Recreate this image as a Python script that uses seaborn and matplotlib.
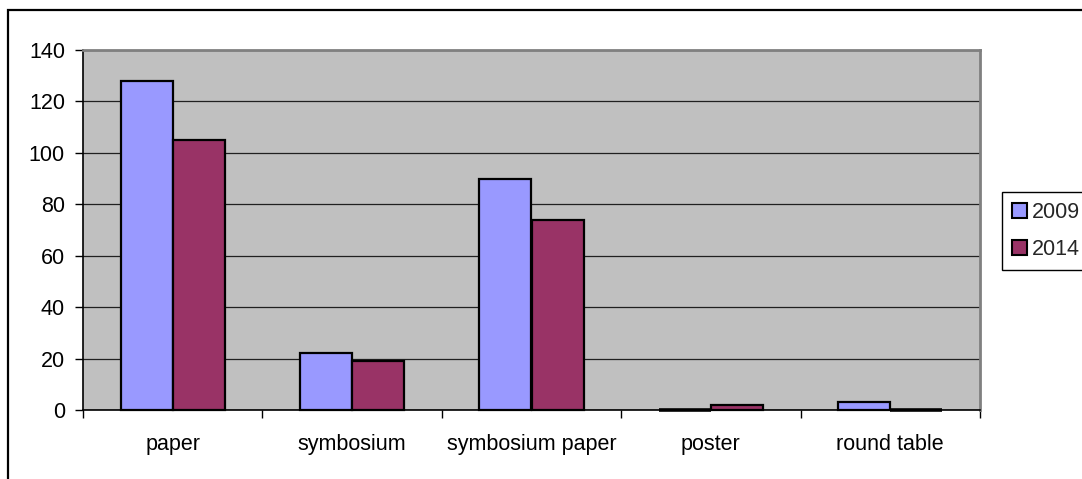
import matplotlib
matplotlib.use("Agg")
import matplotlib.pyplot as plt
from matplotlib.patches import Rectangle
from matplotlib.ticker import FixedLocator
import seaborn as sns
import pandas as pd

categories = ["paper", "symbosium", "symbosium paper", "poster", "round table"]
years = ["2009", "2014"]
values_2009 = [128, 22, 90, 0, 3]
values_2014 = [105, 19, 74, 2, 0]
y_ticks = [0, 20, 40, 60, 80, 100, 120, 140]

df = pd.DataFrame({
    "category": categories * 2,
    "year": [years[0]] * len(categories) + [years[1]] * len(categories),
    "count": values_2009 + values_2014,
})

sns.set_theme(style="white")
plt.rcParams["font.family"] = ["Liberation Sans", "DejaVu Sans"]

FS = 15.5
W, H = 1082, 479
fig = plt.figure(figsize=(W / 100, H / 100), dpi=100)
ax = fig.add_axes([83 / W, 1 - 410 / H, (980 - 83) / W, (410 - 50) / H])
ax.set_facecolor("#C0C0C0")

palette = {"2009": "#9999FF", "2014": "#993366"}
sns.barplot(data=df, x="category", y="count", hue="year", order=categories,
            hue_order=years, palette=palette, width=0.58, saturation=1,
            edgecolor="black", linewidth=1.6, ax=ax, zorder=3)
for p in ax.patches:
    p.set_clip_on(False)
    if p.get_height() == 0:
        # empty groups still show as a flat outlined bar on the axis
        p.set_linewidth(2.6)

ax.set_xlim(-0.5, len(categories) - 0.5)
ax.set_ylim(0, 140)
ax.set_yticks(y_ticks)
ax.set_yticklabels([str(v) for v in y_ticks])
ax.yaxis.grid(True, color="#202020", linewidth=0.9, zorder=0)
ax.set_axisbelow(True)
ax.set_xlabel("")
ax.set_ylabel("")

# category boundary ticks on the x axis, labels centred under each group
ax.xaxis.set_minor_locator(FixedLocator([i - 0.5 for i in range(len(categories) + 1)]))
ax.tick_params(axis="x", which="major", length=0, pad=17, labelsize=FS, colors="black")
ax.tick_params(axis="x", which="minor", length=6, width=1, direction="out",
               color="black", bottom=True)
ax.tick_params(axis="y", which="major", length=6, width=1, direction="out",
               pad=7, labelsize=FS, left=True, color="black", labelcolor="black")

for side in ("top", "right"):
    ax.spines[side].set_color("#808080")
    ax.spines[side].set_linewidth(2)
for side in ("left", "bottom"):
    ax.spines[side].set_color("black")
    ax.spines[side].set_linewidth(1.2)

leg = ax.get_legend()
if leg is not None:
    leg.remove()
handles = [Rectangle((0, 0), 1, 1, facecolor=palette[y], edgecolor="black", linewidth=1.5)
           for y in years]
fig.legend(handles, years, loc="upper left",
           bbox_to_anchor=(1002 / W, 1 - 192 / H), frameon=True, fancybox=False,
           edgecolor="black", framealpha=1, fontsize=FS, handlelength=0.7,
           handleheight=0.7, handletextpad=0.25, labelspacing=0.75,
           borderpad=0.45, borderaxespad=0)

# chart area border
fig.patches.append(Rectangle((8 / W, -0.1), 1.2, 1 - 10 / H + 0.1,
                             transform=fig.transFigure, fill=False,
                             edgecolor="black", linewidth=1.6))

fig.savefig("out.png", dpi=100)
